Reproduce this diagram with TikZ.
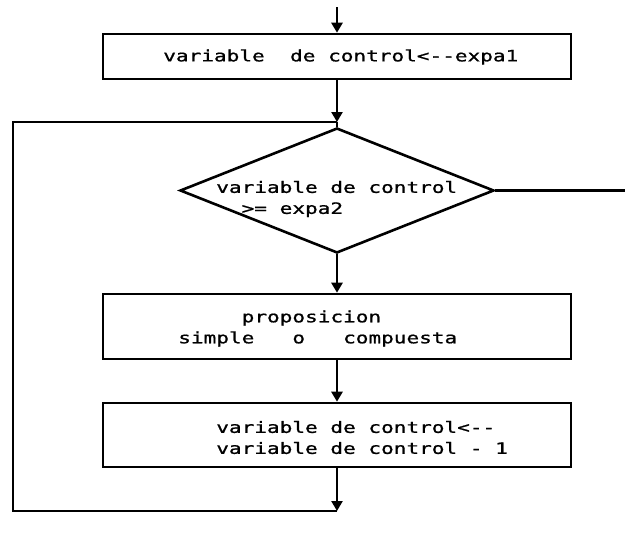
\documentclass[tikz,border=0pt]{standalone}
\usepackage{fontspec}
\newfontfamily\dotfont[FakeStretch=1.35,FakeBold=1,Ligatures=TeXOff]{DejaVu Sans Mono}
\usetikzlibrary{arrows.meta,shapes.geometric}
\begin{document}
\begin{tikzpicture}[x=1pt,y=-1pt,
  line width=2.6pt,
  flow/.style={-{Triangle[length=10pt,width=11pt]}},
  procbox/.style={draw, rectangle, minimum width=468pt, inner sep=0pt},
  decision/.style={draw, diamond, minimum width=314pt, minimum height=125pt, inner sep=0pt},
  lbl/.style={font=\dotfont\fontsize{15.6}{21}\selectfont, align=left, inner sep=0pt, anchor=west}]
\useasboundingbox (0,0) rectangle (625,541);
% shapes
\node[procbox, minimum height=45pt] (b1) at (337,56.5) {};
\node[decision] (d) at (337,190.5) {};
\node[procbox, minimum height=65pt] (b2) at (337,326.5) {};
\node[procbox, minimum height=64pt] (b3) at (337,435) {};
% texts
\node[lbl] (t1) at (162,57) {variable\ \ de control<--expa1};
\node[lbl] (td) at (215,199) {variable de control\\\phantom{xx}>= expa2};
\node[lbl] (t2) at (177,328.5) {\phantom{xxxxx}proposicion\\simple\ \ \ o\ \ \ compuesta};
\node[lbl] (t3) at (215,437.5) {variable de control<--\\variable de control - 1};
% junctions
\coordinate (start) at (337,7);
\coordinate (j1) at (337,122);
\coordinate (j2) at (337,511);
\coordinate (tl) at (13,122);
\coordinate (bl) at (13,511);
\coordinate (exit) at (625,190.5);
% connectors
\draw[flow] (start) -- (b1.north);
\draw[flow] (b1.south) -- (j1);
\draw (j1) -- (d.north);
\draw (d.east) -- (exit);
\draw[flow] (d.south) -- (b2.north);
\draw[flow] (b2.south) -- (b3.north);
\draw[flow] (b3.south) -- (j2);
\draw (j2) -- (bl) -- (tl) -- (j1);
\end{tikzpicture}
\end{document}
